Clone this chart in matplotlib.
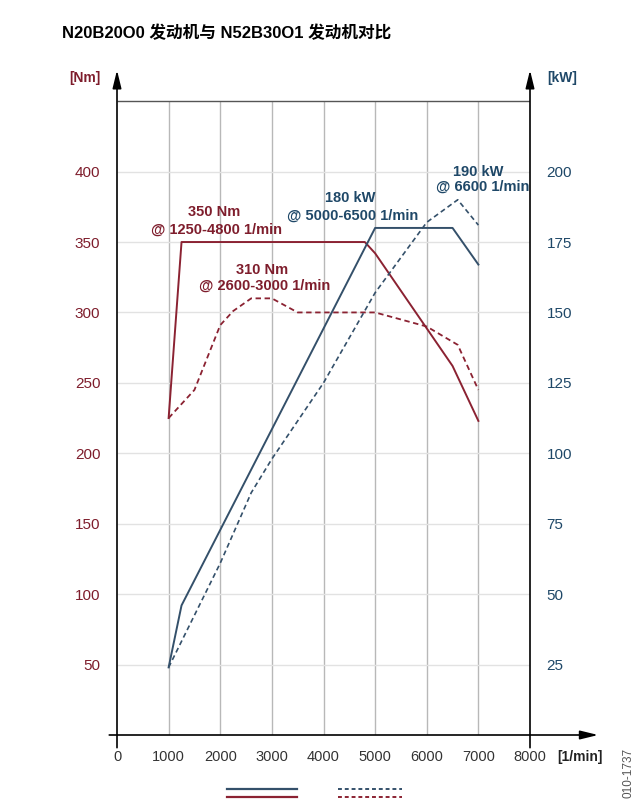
import matplotlib
matplotlib.use("Agg")
import matplotlib.pyplot as plt
from matplotlib.lines import Line2D

plt.rcParams['font.family'] = ['Liberation Sans', 'Noto Sans CJK SC', 'DejaVu Sans']

# engine data
rpm_n20_torque = [1000, 1250, 4800, 5000, 6500, 7000]
n20_torque = [225, 350, 350, 342, 262, 223]

rpm_n20_power = [1000, 1250, 5000, 6500, 7000]
n20_power = [24, 46, 180, 180, 167]

rpm_n52_torque = [1000, 1500, 2000, 2250, 2600, 3000, 3500, 5000, 6000, 6600, 7000]
n52_torque = [225, 245, 291, 301, 310, 310, 300, 300, 290, 277, 245]

rpm_n52_power = [1000, 2000, 2600, 3000, 4000, 5000, 6000, 6600, 7000]
n52_power = [24, 61, 86, 98, 125, 157, 182, 190, 181]

x_ticks = list(range(0, 8001, 1000))
nm_ticks = list(range(50, 401, 50))
kw_ticks = list(range(25, 201, 25))

RED = '#8b2232'
RED_TXT = '#7e1d2c'
BLUE = '#34506a'
BLUE_TXT = '#1f4868'

W, H = 640, 806
fig = plt.figure(figsize=(6.4, 8.06), dpi=100)
fig.patch.set_facecolor('white')

ax = fig.add_axes([117 / W, 1 - 735 / H, 413 / W, (735 - 73) / H])
ax.set_xlim(0, 8000)
ax.set_ylim(0, 470)
for s in ax.spines.values():
    s.set_visible(False)

# grid
ax.vlines(x_ticks[1:-1], 0, 450, color='#b8b8b8', lw=1.0, zorder=1)
ax.hlines(nm_ticks, 0, 8000, color='#e2e2e2', lw=1.0, zorder=1)
ax.hlines(450, 0, 8000, color='#555555', lw=1.0, zorder=1)

# axes with arrows
arr = dict(arrowstyle='-|>,head_length=0.9,head_width=0.22', color='black',
           lw=1.2, shrinkA=0, shrinkB=0, mutation_scale=12)
ax.annotate('', xy=(0, 472), xytext=(0, -9), arrowprops=arr, annotation_clip=False)
ax.annotate('', xy=(8000, 472), xytext=(8000, -9), arrowprops=arr, annotation_clip=False)
ax.annotate('', xy=(9320, 0), xytext=(-150, 0), arrowprops=arr, annotation_clip=False)

ax.set_xticks(x_ticks)
ax.set_xticklabels([str(v) for v in x_ticks])
ax.tick_params(axis='x', length=0, pad=11, labelsize=10.5, labelcolor='#333333')
ax.set_yticks(nm_ticks)
ax.tick_params(axis='y', length=0, pad=12, labelsize=11, labelcolor=RED_TXT)

ax.plot(rpm_n20_torque, n20_torque, color=RED, lw=1.4, zorder=3)
ax.plot(rpm_n52_torque, n52_torque, color=RED, lw=1.3, ls=(0, (3, 2)), zorder=3)

ax2 = ax.twinx()
ax2.set_ylim(0, 235)
for s in ax2.spines.values():
    s.set_visible(False)
ax2.set_yticks(kw_ticks)
ax2.tick_params(axis='y', length=0, pad=12, labelsize=11, labelcolor=BLUE_TXT)
ax2.plot(rpm_n20_power, n20_power, color=BLUE, lw=1.4, zorder=3)
ax2.plot(rpm_n52_power, n52_power, color=BLUE, lw=1.2, ls=(0, (3, 2)), zorder=3)

# annotations
def note(x, y, s, c):
    ax.text(x, y, s, color=c, fontsize=10.5, fontweight='bold', ha='center', va='center', zorder=5)

note(1880, 371, '350 Nm', RED_TXT)
note(1920, 359, '@ 1250-4800 1/min', RED_TXT)
note(2810, 330, '310 Nm', RED_TXT)
note(2850, 319, '@ 2600-3000 1/min', RED_TXT)
note(4515, 381, '180 kW', BLUE_TXT)
note(4555, 369, '@ 5000-6500 1/min', BLUE_TXT)
note(6996, 400, '190 kW', BLUE_TXT)
note(7074, 389, '@ 6600 1/min', BLUE_TXT)

# unit labels and title
fig.text(85 / W, 1 - 78 / H, '[Nm]', color=RED_TXT, fontsize=10, fontweight='bold', ha='center', va='center')
fig.text(562 / W, 1 - 78 / H, '[kW]', color=BLUE_TXT, fontsize=10, fontweight='bold', ha='center', va='center')
fig.text(580 / W, 1 - 757 / H, '[1/min]', color='#222222', fontsize=10, fontweight='bold', ha='center', va='center')
fig.text(62 / W, 1 - 33 / H, 'N20B20O0 发动机与 N52B30O1 发动机对比', fontsize=12,
         fontweight='bold', ha='left', va='center')

# legend strokes at the bottom
fig.add_artist(Line2D([227 / W, 297 / W], [1 - 789 / H] * 2, color=BLUE, lw=1.6))
fig.add_artist(Line2D([227 / W, 297 / W], [1 - 797 / H] * 2, color=RED, lw=1.6))
fig.add_artist(Line2D([338 / W, 402 / W], [1 - 789 / H] * 2, color=BLUE, lw=1.4, ls=(0, (2, 1.5))))
fig.add_artist(Line2D([338 / W, 402 / W], [1 - 797 / H] * 2, color=RED, lw=1.4, ls=(0, (2, 1.5))))

fig.text(628 / W, 1 - 748 / H, '010-1737', rotation=90, fontsize=8.5, color='#555555',
         ha='center', va='top')

fig.savefig('out.png', dpi=100, facecolor='white')
